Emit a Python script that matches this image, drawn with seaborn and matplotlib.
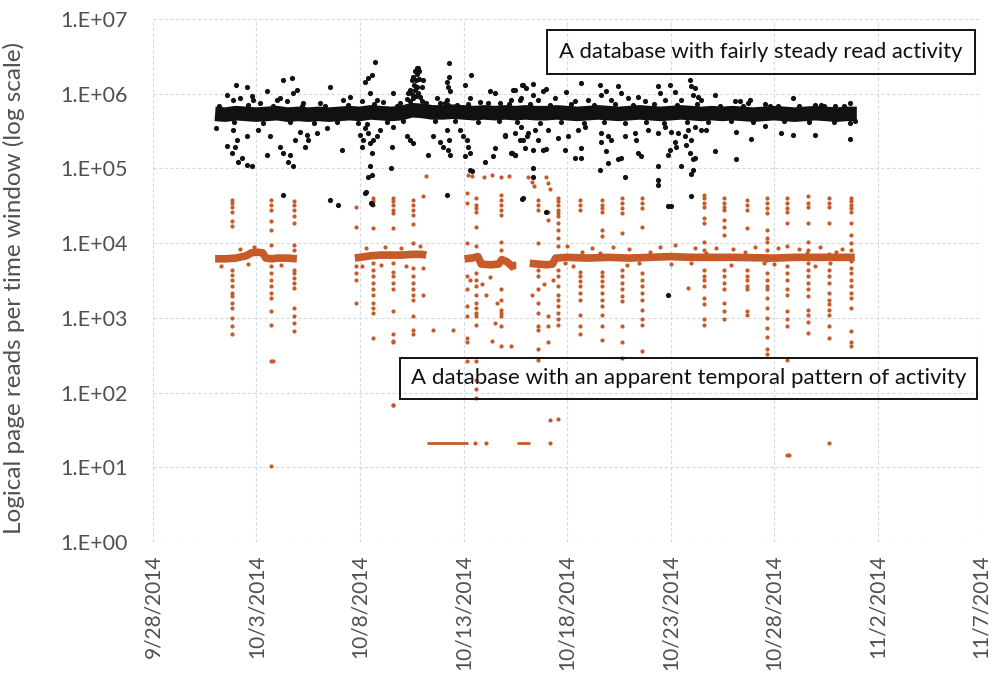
import numpy as np
import pandas as pd
import matplotlib
matplotlib.use("Agg")
import matplotlib.pyplot as plt
import seaborn as sns

# ---------------- data (days since 9/28/2014, log10 of reads) ----------------
BASE = pd.Timestamp("2014-09-28")

x_tick_days = [0, 5, 10, 15, 20, 25, 30, 35, 40]
x_tick_labels = ["9/28/2014", "10/3/2014", "10/8/2014", "10/13/2014", "10/18/2014",
                 "10/23/2014", "10/28/2014", "11/2/2014", "11/7/2014"]
y_tick_values = [1e0, 1e1, 1e2, 1e3, 1e4, 1e5, 1e6, 1e7]
y_tick_labels = ["1.E+00", "1.E+01", "1.E+02", "1.E+03", "1.E+04", "1.E+05", "1.E+06", "1.E+07"]

# steady database: dense core band
black_band_day = [3.0, 3.5, 4.0, 4.5, 5.0, 5.5, 6.0, 6.5, 7.0, 7.5, 8.0, 8.5, 9.0, 9.5, 10.0,
                  10.5, 11.0, 11.5, 12.0, 12.5, 13.0, 13.5, 14.0, 14.5, 15.0, 15.5, 16.0, 16.5,
                  17.0, 17.5, 18.0, 18.5, 19.0, 19.5, 20.0, 20.5, 21.0, 21.5, 22.0, 22.5, 23.0,
                  23.5, 24.0, 24.5, 25.0, 25.5, 26.0, 26.5, 27.0, 27.5, 28.0, 28.5, 29.0, 29.5,
                  30.0, 30.5, 31.0, 31.5, 32.0, 32.5, 33.0, 33.5, 34.0]
black_band_exp = [5.73, 5.72, 5.74, 5.73, 5.72, 5.73, 5.74, 5.72, 5.73, 5.72, 5.73, 5.72, 5.73,
                  5.74, 5.73, 5.75, 5.74, 5.73, 5.74, 5.78, 5.77, 5.75, 5.75, 5.76, 5.75, 5.74,
                  5.75, 5.74, 5.75, 5.74, 5.75, 5.74, 5.74, 5.75, 5.74, 5.73, 5.74, 5.75, 5.74,
                  5.73, 5.74, 5.75, 5.74, 5.73, 5.74, 5.75, 5.74, 5.73, 5.74, 5.73, 5.74, 5.73,
                  5.72, 5.73, 5.74, 5.73, 5.72, 5.73, 5.74, 5.73, 5.72, 5.73, 5.73]

# steady database: scattered windows
black_points = [
    (4.01, 6.12), (4.53, 6.09), (3.56, 5.98), (3.88, 5.92), (4.20, 5.94), (4.77, 5.97), (4.85, 5.92),
    (5.49, 6.03), (5.17, 5.87), (5.97, 5.92), (6.30, 6.18), (6.70, 6.21), (6.14, 5.94), (6.46, 5.90),
    (6.78, 6.01), (6.94, 6.05), (7.26, 5.87), (8.06, 5.87), (8.55, 6.09), (9.19, 5.92), (9.51, 5.96),
    (10.08, 5.90), (10.24, 6.16), (10.40, 6.21), (10.56, 6.25), (10.72, 6.42), (10.48, 6.01),
    (10.80, 5.92), (11.12, 5.89), (11.61, 6.01), (11.93, 5.87),
    (12.33, 6.01), (12.41, 6.05), (12.49, 6.18), (12.57, 6.23), (12.66, 6.30), (12.77, 6.34),
    (12.87, 6.31), (12.70, 6.18), (12.77, 6.09), (12.66, 6.05), (12.82, 6.01), (12.90, 5.96),
    (12.41, 5.90), (12.57, 5.94), (12.98, 5.90), (12.25, 5.93), (13.06, 6.18), (12.98, 6.09),
    (12.74, 6.27), (12.82, 6.34), (12.62, 6.12), (12.50, 6.00), (12.70, 5.97), (12.85, 6.20),
    (13.70, 5.94), (13.86, 5.87), (14.19, 6.16), (14.27, 6.09), (14.32, 6.41), (14.35, 6.03),
    (14.19, 5.92), (14.28, 6.23), (14.23, 5.85), (14.67, 5.85), (15.07, 6.12), (15.36, 6.25),
    (15.31, 5.94), (15.80, 5.89), (16.28, 6.03), (16.52, 6.01), (16.76, 5.87), (17.41, 6.05),
    (17.81, 6.12), (17.73, 5.92),
    (3.04, 5.54), (3.56, 5.30), (3.80, 5.20), (3.96, 5.29), (4.04, 5.38), (4.28, 5.14), (4.12, 5.09),
    (4.53, 5.05), (4.77, 5.03), (3.88, 5.52), (4.53, 5.43), (5.09, 5.52), (5.49, 5.18), (5.65, 5.43),
    (6.14, 5.29), (6.30, 5.20), (6.54, 5.09), (6.62, 5.18), (6.78, 5.03), (6.86, 5.38), (7.10, 5.49),
    (7.42, 5.45), (7.50, 5.38), (7.34, 5.29), (7.91, 5.47), (8.39, 5.54), (9.11, 5.25), (10.00, 5.45),
    (10.08, 5.29), (10.16, 5.38), (10.24, 5.54), (10.32, 5.60), (10.40, 5.47), (10.48, 5.34),
    (10.56, 5.20), (10.64, 5.38), (10.80, 5.43), (10.97, 5.52), (10.48, 5.03), (10.40, 4.89),
    (10.56, 4.91), (10.24, 4.67), (10.56, 4.53), (11.53, 5.29), (11.50, 5.00), (11.61, 5.56),
    (12.25, 5.43), (12.41, 5.38), (12.57, 5.34), (13.30, 5.18), (13.54, 5.43), (13.86, 5.36),
    (14.03, 5.29), (14.27, 5.25), (14.35, 5.18), (14.19, 5.52), (14.32, 5.38), (14.83, 5.52),
    (14.99, 5.43), (15.15, 5.38), (15.23, 5.29), (15.31, 5.20), (15.07, 5.16), (15.31, 4.98),
    (15.39, 4.96), (16.04, 5.09), (16.44, 5.16), (16.52, 5.27), (17.00, 5.43), (17.33, 5.20),
    (17.49, 5.18), (17.73, 5.38), (18.05, 5.43), (14.19, 4.65), (6.26, 4.65), (8.55, 4.58),
    (8.95, 4.51), (10.27, 4.68), (10.51, 4.54), (17.81, 4.59), (18.98, 4.42),
    (17.47, 6.05), (17.88, 6.12), (18.36, 6.13), (18.04, 6.07), (18.36, 5.98), (18.84, 6.03),
    (19.00, 6.06), (19.97, 6.02), (20.69, 6.15), (21.58, 6.12), (21.66, 5.98), (21.90, 6.04),
    (22.47, 6.10), (22.63, 6.01), (22.95, 5.94), (23.43, 5.96), (24.40, 6.10), (24.48, 6.01),
    (24.96, 6.12), (25.20, 6.02), (25.93, 6.18), (26.01, 6.10), (26.17, 6.07), (26.09, 5.98),
    (26.33, 5.96), (27.14, 5.98), (28.34, 5.90), (28.83, 5.92), (29.55, 5.86), (30.92, 5.94),
    (31.97, 5.85), (33.66, 5.88), (17.31, 5.92), (17.80, 5.94), (18.60, 5.92), (19.41, 5.94),
    (20.37, 5.90), (21.02, 5.92), (22.14, 5.92), (23.75, 5.90), (24.72, 5.92), (25.53, 5.92),
    (26.49, 5.92), (28.10, 5.90), (28.75, 5.87), (30.20, 5.83), (32.29, 5.85), (32.93, 5.83),
    (16.99, 5.45), (17.47, 5.47), (17.80, 5.56), (17.88, 5.38), (18.12, 5.47), (18.44, 5.52),
    (18.60, 5.38), (19.08, 5.52), (19.57, 5.41), (20.05, 5.43), (20.53, 5.52), (20.86, 5.56),
    (21.66, 5.47), (21.98, 5.43), (22.14, 5.38), (22.79, 5.43), (23.27, 5.47), (23.35, 5.38),
    (23.92, 5.52), (24.40, 5.47), (24.72, 5.56), (25.04, 5.49), (25.36, 5.47), (25.69, 5.43),
    (25.85, 5.52), (26.01, 5.38), (26.17, 5.56), (26.49, 5.52), (26.73, 5.52), (28.18, 5.49),
    (28.91, 5.40), (29.55, 5.57), (30.36, 5.48), (30.92, 5.45), (31.97, 5.45), (33.66, 5.61),
    (33.66, 5.39), (17.31, 5.20), (17.47, 5.18), (17.96, 5.27), (18.36, 5.25), (18.84, 5.25),
    (19.00, 5.26), (19.89, 5.25), (20.37, 5.14), (20.69, 5.14), (20.69, 5.27), (21.58, 4.98),
    (21.66, 5.35), (21.98, 5.07), (21.90, 5.23), (22.47, 5.12), (22.63, 5.14), (22.79, 4.89),
    (23.43, 5.20), (23.59, 5.16), (24.40, 5.03), (24.40, 4.84), (24.40, 4.78), (24.88, 5.18),
    (24.96, 5.25), (25.20, 5.36), (25.28, 5.29), (25.53, 5.03), (25.77, 5.32), (25.93, 5.20),
    (26.09, 5.12), (26.17, 5.14), (26.09, 4.98), (26.01, 4.92), (27.14, 5.23), (28.18, 5.12),
    (18.36, 5.00), (18.36, 4.89), (17.88, 4.60), (25.04, 4.50), (26.01, 4.63), (24.89, 4.50),
    (24.89, 3.31),
    # windows hugging the dense band
    (3.2, 5.84), (3.9, 5.62), (4.6, 5.85), (5.3, 5.61), (5.8, 5.84), (6.6, 5.62), (7.2, 5.83),
    (7.8, 5.61), (8.3, 5.84), (8.9, 5.62), (9.4, 5.85), (9.9, 5.61), (10.7, 5.86), (11.3, 5.62),
    (11.8, 5.84), (12.1, 5.63), (13.2, 5.88), (13.6, 5.64), (14.1, 5.87), (14.6, 5.63),
    (15.2, 5.86), (15.7, 5.62), (16.2, 5.87), (16.7, 5.63), (17.2, 5.86), (17.6, 5.62),
    (18.2, 5.86), (18.7, 5.61), (19.2, 5.85), (19.7, 5.62), (20.2, 5.86), (20.8, 5.61),
    (21.3, 5.85), (21.8, 5.62), (22.3, 5.86), (22.8, 5.61), (23.2, 5.85), (23.8, 5.62),
    (24.2, 5.86), (24.7, 5.61), (25.3, 5.85), (25.8, 5.62), (26.3, 5.86), (26.8, 5.62),
    (27.4, 5.84), (27.9, 5.63), (28.5, 5.84), (29.0, 5.62), (29.8, 5.84), (30.5, 5.63),
    (31.2, 5.84), (31.7, 5.62), (32.4, 5.84), (32.9, 5.62), (33.4, 5.84), (33.9, 5.63),
]

# temporal-pattern database: steady segments
orange_band_seg = [1] * 12 + [2] * 9 + [3] * 10 + [4] * 17
orange_band_day = [3.0, 3.5, 4.0, 4.5, 4.75, 5.0, 5.3, 5.45, 5.75, 6.0, 6.5, 6.95,
                   9.75, 10.0, 10.5, 11.0, 11.5, 12.0, 12.5, 13.0, 13.2,
                   15.05, 15.4, 15.7, 15.85, 16.3, 16.7, 16.85, 17.1, 17.3, 17.55,
                   18.2, 18.6, 19.0, 19.3, 19.45, 20.0, 21.0, 22.0, 23.0, 24.0, 25.0, 26.0,
                   28.0, 30.0, 31.0, 32.5, 33.9]
orange_band_exp = [3.79, 3.79, 3.80, 3.83, 3.87, 3.88, 3.87, 3.80, 3.79, 3.80, 3.80, 3.79,
                   3.80, 3.81, 3.83, 3.84, 3.84, 3.84, 3.85, 3.85, 3.84,
                   3.79, 3.80, 3.82, 3.72, 3.71, 3.72, 3.78, 3.75, 3.70, 3.70,
                   3.73, 3.72, 3.71, 3.72, 3.80, 3.81, 3.80, 3.81, 3.80, 3.81, 3.82, 3.81,
                   3.81, 3.80, 3.81, 3.81, 3.81]

# temporal-pattern database: low floor (~20 reads)
orange_floor_seg = [1, 1, 2, 2]
orange_floor_day = [13.22, 15.23, 17.56, 18.21]
orange_floor_exp = [1.32, 1.32, 1.32, 1.32]

# temporal-pattern database: daily bursts
stripe_days = [3.83, 5.68, 6.83, 9.79, 10.64, 11.58, 12.58, 15.15, 15.60, 16.81, 18.61, 19.09,
               19.58, 20.62, 21.67, 22.64, 23.60, 26.62, 27.60, 28.68, 29.68, 30.65, 31.66,
               32.67, 33.70]
stripe_exps = [
    [4.58, 4.54, 4.49, 4.42, 4.29, 4.23, 3.645, 3.58, 3.51, 3.42, 3.33, 3.29, 3.20, 3.13, 3.00, 2.89, 2.79],
    [4.58, 4.51, 4.45, 4.29, 4.18, 3.98, 3.69, 3.60, 3.51, 3.42, 3.33, 3.27, 3.09, 2.90, 2.42, 1.02],
    [4.56, 4.51, 4.45, 4.36, 4.27, 3.98, 3.91, 3.645, 3.60, 3.53, 3.47, 3.40, 3.13, 3.02, 2.93, 2.82],
    [4.49, 4.22, 3.69, 3.60, 3.51, 3.20],
    [4.60, 4.56, 4.51, 4.20, 3.73, 3.645, 3.56, 3.47, 3.38, 3.31, 3.20, 3.13, 3.07, 2.73],
    [4.60, 4.56, 4.51, 4.45, 4.40, 4.20, 3.73, 3.62, 3.56, 3.47, 3.38, 3.09, 2.78, 2.69, 2.67, 1.84],
    [4.58, 4.51, 4.45, 4.38, 4.25, 4.00, 3.67, 3.56, 3.47, 3.38, 3.31, 3.24, 3.02, 2.84, 2.79],
    [4.67, 4.54, 4.00, 3.56, 3.38, 3.155, 3.02, 2.73, 2.67, 2.42],
    [4.60, 4.51, 4.47, 4.42, 4.22, 3.96, 3.60, 3.51, 3.42, 3.31, 3.20, 3.13, 3.07, 3.02, 2.91, 2.42, 2.17, 2.05, 1.93],
    [4.65, 4.58, 4.51, 4.45, 4.38, 4.02, 3.91, 3.38, 3.24, 3.11, 3.07, 3.02, 2.89, 2.62],
    [4.58, 4.51, 4.45, 4.00, 3.73, 3.645, 3.56, 3.38, 3.20, 3.07, 2.89, 2.84, 2.58, 2.44],
    [4.42, 4.31, 3.02, 2.89, 2.67],
    [4.60, 4.56, 4.51, 4.45, 4.40, 4.36, 4.27, 4.18, 4.07, 3.96, 3.645, 3.56, 3.42, 3.31, 3.24, 3.155, 3.07, 2.98, 2.91, 1.64],
    [4.58, 4.51, 4.45, 3.62, 3.56, 3.49, 3.42, 3.33, 3.24, 3.04, 2.89, 2.78],
    [4.58, 4.51, 4.47, 4.42, 4.18, 4.09, 3.62, 3.56, 3.49, 3.42, 3.33, 3.24, 3.155, 3.04, 2.89, 2.71],
    [4.60, 4.54, 4.47, 4.40, 4.135, 3.645, 3.56, 3.47, 3.38, 3.29, 3.22, 2.89, 2.67, 2.46],
    [4.60, 4.54, 4.47, 4.22, 3.60, 3.51, 3.42, 3.33, 3.24, 3.11, 2.98, 2.91, 2.55],
    [4.65, 4.60, 4.54, 4.49, 4.34, 4.27, 4.02, 3.91, 3.645, 3.56, 3.51, 3.42, 3.27, 3.18, 2.98, 2.91],
    [4.60, 4.54, 4.49, 4.45, 4.31, 4.22, 4.11, 3.645, 3.56, 3.47, 3.38, 3.20, 3.09, 2.98],
    [4.58, 4.51, 4.45, 4.20, 3.645, 3.56, 3.51, 3.42, 3.38, 3.09, 3.04],
    [4.60, 4.54, 4.47, 4.40, 4.18, 4.07, 4.02, 3.91, 3.78, 3.60, 3.51, 3.42, 3.38, 3.27, 3.13, 3.00, 2.87, 2.75, 2.58, 2.51],
    [4.60, 4.54, 4.47, 4.42, 4.27, 3.96, 3.69, 3.60, 3.51, 3.38, 3.31, 3.09, 2.98, 2.89, 2.44, 1.17],
    [4.63, 4.54, 4.49, 4.27, 4.02, 3.91, 3.73, 3.645, 3.56, 3.47, 3.38, 3.29, 3.11, 3.04, 2.95, 2.80],
    [4.60, 4.54, 4.49, 4.27, 3.85, 3.645, 3.56, 3.47, 3.33, 3.24, 3.18, 3.11, 3.04, 2.89, 2.73, 1.33],
    [4.60, 4.56, 4.51, 4.47, 4.42, 4.27, 4.11, 4.00, 3.91, 3.76, 3.67, 3.60, 3.51, 3.42, 3.33, 3.27, 3.13, 2.82, 2.67, 2.62],
]

# temporal-pattern database: other isolated windows
orange_points = [
    (13.06, 4.63), (13.06, 3.67), (13.06, 3.31), (13.54, 2.84), (14.50, 2.84),
    (16.52, 2.93), (16.36, 2.69), (17.29, 2.62), (17.29, 3.67), (15.90, 3.45), (16.10, 3.30),
    (16.30, 3.55), (16.60, 3.20), (15.30, 3.50), (18.30, 3.30), (18.90, 3.45), (19.30, 3.50),
    (25.86, 3.40), (11.61, 1.83), (15.55, 1.32), (16.11, 1.32), (19.17, 1.32), (19.17, 1.63),
    (30.74, 1.17), (5.81, 2.42),
    (13.20, 4.90), (15.20, 4.91), (15.40, 4.90), (16.00, 4.89), (16.40, 4.91), (16.80, 4.89),
    (17.20, 4.90), (18.10, 4.88), (18.30, 4.82), (18.40, 4.76), (19.00, 4.88), (19.10, 4.80),
    (19.20, 4.73),
    (20.00, 3.96), (21.20, 3.93), (22.20, 3.95), (23.00, 3.92), (24.50, 3.95), (25.20, 3.97),
    (26.20, 3.94), (27.20, 3.93), (28.00, 3.92), (29.10, 3.95), (30.20, 3.93), (31.20, 3.92),
    (32.20, 3.95), (33.30, 3.92), (4.20, 3.92), (4.90, 3.95), (10.30, 3.93), (11.20, 3.95),
    (12.00, 3.94), (12.90, 3.96), (3.30, 3.70), (4.60, 3.72), (6.20, 3.71), (10.10, 3.70),
    (11.00, 3.71), (12.20, 3.70), (20.30, 3.70), (22.90, 3.71), (25.00, 3.72), (27.90, 3.71),
    (30.00, 3.72), (32.00, 3.70), (20.7, 3.88), (21.6, 3.87), (24.0, 3.88), (26.7, 3.87),
    (28.6, 3.88), (31.6, 3.87), (33.0, 3.88), (19.9, 3.74), (23.5, 3.74), (26.0, 3.74),
    (29.5, 3.74), (32.7, 3.74),
]

# annotation texts
label_steady = "A database with fairly steady read activity"
label_pattern = "A database with an apparent temporal pattern of activity"
y_axis_label = "Logical page reads per time window (log scale)"

# ---------------- build frames ----------------
def to_date(days):
    return BASE + pd.to_timedelta(np.asarray(days, dtype=float), unit="D")

bb = pd.DataFrame({"date": to_date(black_band_day), "reads": 10 ** np.array(black_band_exp),
                   "seg": 1})
bp = pd.DataFrame({"date": to_date([p[0] for p in black_points]),
                   "reads": 10 ** np.array([p[1] for p in black_points])})
ob = pd.DataFrame({"date": to_date(orange_band_day), "reads": 10 ** np.array(orange_band_exp),
                   "seg": orange_band_seg})
of = pd.DataFrame({"date": to_date(orange_floor_day), "reads": 10 ** np.array(orange_floor_exp),
                   "seg": orange_floor_seg})
sd, se = [], []
for d, vals in zip(stripe_days, stripe_exps):
    sd += [d] * len(vals)
    se += vals
sd += [p[0] for p in orange_points]
se += [p[1] for p in orange_points]
op = pd.DataFrame({"date": to_date(sd), "reads": 10 ** np.array(se)})

# ---------------- draw ----------------
sns.set_style("white")
plt.rcParams["font.family"] = ["Lato", "DejaVu Sans"]

BLACK = "#111111"
ORANGE = "#C65A28"
GREY = "#505050"

fig = plt.figure(figsize=(9.98, 6.89), dpi=100)
ax = fig.add_axes([0.1533, 0.2134, 0.983 - 0.1533, 0.9724 - 0.2134])
ax.set_yscale("log")

sns.lineplot(data=ob, x="date", y="reads", units="seg", estimator=None, sort=False,
             color=ORANGE, linewidth=5.5, ax=ax, legend=False, solid_capstyle="butt")
sns.lineplot(data=of, x="date", y="reads", units="seg", estimator=None, sort=False,
             color=ORANGE, linewidth=2.0, ax=ax, legend=False, solid_capstyle="butt")
sns.scatterplot(data=op, x="date", y="reads", color=ORANGE, s=9, linewidth=0, ax=ax,
                legend=False)
sns.lineplot(data=bb, x="date", y="reads", units="seg", estimator=None, sort=False,
             color=BLACK, linewidth=10.5, ax=ax, legend=False, solid_capstyle="butt")
sns.scatterplot(data=bp, x="date", y="reads", color=BLACK, s=14, linewidth=0, ax=ax,
                legend=False)

ax.set_xlim(to_date([0])[0], to_date([40])[0])
ax.set_ylim(1, 1e7)
ax.set_xticks(to_date(x_tick_days))
ax.set_xticklabels(x_tick_labels, rotation=90, fontsize=15, color=GREY)
ax.set_yticks(y_tick_values)
ax.set_yticklabels(y_tick_labels, fontsize=15.5, color=GREY)
ax.yaxis.set_minor_locator(matplotlib.ticker.NullLocator())
ax.tick_params(axis="both", length=0)
ax.tick_params(axis="y", pad=18)
ax.tick_params(axis="x", pad=9)
ax.grid(True, color="#d6d9e0", linestyle=(0, (3, 2)), linewidth=0.8)
ax.set_axisbelow(True)
for s in ax.spines.values():
    s.set_visible(False)
ax.set_xlabel("")
ax.set_ylabel(y_axis_label, fontsize=17.5, color=GREY)
ax.yaxis.set_label_coords(-0.155, 0.485)

box1 = dict(boxstyle="square,pad=0.55", facecolor="none", edgecolor="#111111", linewidth=1.4)
box2 = dict(boxstyle="square,pad=0.48", facecolor="none", edgecolor="#111111", linewidth=1.4)
ax.text(0.734, 0.937, label_steady, transform=ax.transAxes, ha="center", va="center",
        fontsize=15.8, color="#111111", bbox=box1)
ax.text(0.647, 0.3126, label_pattern, transform=ax.transAxes, ha="center", va="center",
        fontsize=16.0, color="#111111", bbox=box2)

fig.savefig("out.png", dpi=100)
